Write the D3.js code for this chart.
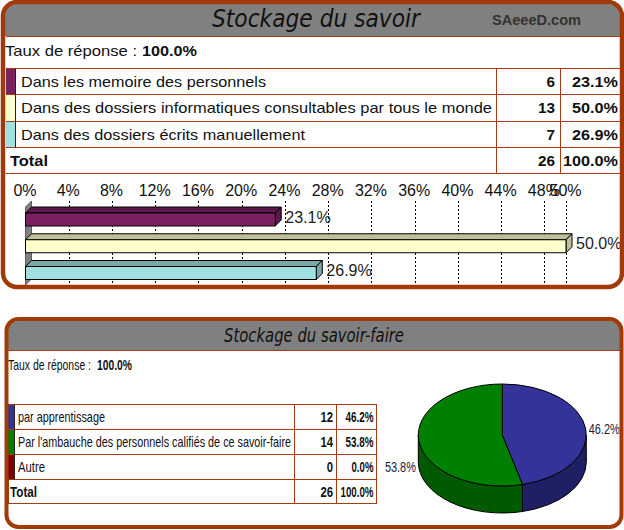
<!DOCTYPE html>
<html><head><meta charset="utf-8">
<script src="https://cdn.jsdelivr.net/npm/d3@7"></script>
<style>html,body{margin:0;padding:0;background:#fff}svg{display:block}text{font-family:"Liberation Sans",Arial,sans-serif;fill:#111}</style>
</head><body><svg id="c" width="624" height="530"></svg>
<script>
// ---- data ----
const title1 = "Stockage du savoir";
const brand = "SAeeeD.com";
const responseLabel = "Taux de réponse :";
const responseValue = "100.0%";
const cats1 = ["Dans les memoire des personnels","Dans des dossiers informatiques consultables par tous le monde","Dans des dossiers écrits manuellement"];
const counts1 = [6,13,7];
const pcts1 = [23.1,50.0,26.9];
const colors1 = ["#7b2060","#ffffcc","#a0e0e0"];
const tops1 = ["#5c1848","#bfbf99","#78a8a8"];
const ticks1 = [0,4,8,12,16,20,24,28,32,36,40,44,48,50];
const total1 = 26;
const title2 = "Stockage du savoir-faire";
const cats2 = ["par apprentissage","Par l'ambauche des personnels califiés de ce savoir-faire","Autre"];
const counts2 = [12,14,0];
const pcts2 = [46.2,53.8,0.0];
const colors2 = ["#333399","#008000","#800000"];
const sides2 = ["#1f1f66","#005a00","#4d0000"];
const total2 = 26;
const totalLabel = "Total";

// ---- helpers ----
const svg = d3.select("#c");
const BR = "#a03a0a", LINE = "#a83c10";
function txt(s,x,y,size,o={}){
  const t = svg.append("text").attr("x",x).attr("y",y).attr("font-size",size).text(s);
  if(o.bold) t.attr("font-weight","bold");
  if(o.anchor) t.attr("text-anchor",o.anchor);
  if(o.w){ t.attr("textLength",o.w).attr("lengthAdjust","spacingAndGlyphs"); }
  if(o.fill) t.style("fill",o.fill);
  if(o.italic) t.attr("font-style","italic");
  if(o.family) t.style("font-family",o.family);
  return t;
}
function rightTxt(s,xr,y,size,w,bold){ // right aligned, fitted width
  return txt(s,xr-w,y,size,{bold,w});
}
function hl(x1,x2,y,c=LINE){svg.append("line").attr("x1",x1).attr("x2",x2).attr("y1",y).attr("y2",y).attr("stroke",c);}
function vl(x,y1,y2,c=LINE){svg.append("line").attr("x1",x).attr("x2",x).attr("y1",y1).attr("y2",y2).attr("stroke",c);}
const fmt = v => v.toFixed(1)+"%";
const TITLEFONT = '"Comic Sans MS","DejaVu Sans",sans-serif';

// ---- panel 1 ----
svg.append("rect").attr("x",3).attr("y",2).attr("width",619).attr("height",285).attr("rx",14).attr("fill","#fff");
svg.append("path").attr("d","M5,36V16Q5,4 17,4H607Q620,4 620,16V36Z").attr("fill","#808080");
hl(6,620,36.5);
txt(title1,212,27,25,{italic:true,w:208,family:TITLEFONT});
txt(brand,492,25,14,{bold:true,w:89,fill:"#333"});
txt(responseLabel,5,56,15,{w:132});
txt(responseValue,142,56,15,{bold:true,w:55});

const rows1 = [68.5,94.5,121.5,147.5,173.5];
rows1.forEach(y=>hl(6,620,y));
vl(496.5,68,173.5); vl(560.5,68,173.5);
const w1 = [245,471,284];
const wn1 = v => String(v).length*8.5;
cats1.forEach((c,i)=>{
  svg.append("rect").attr("x",6).attr("y",rows1[i]+.5).attr("width",9).attr("height",rows1[i+1]-rows1[i]-1).attr("fill",colors1[i]);
  vl(15.5,rows1[i],rows1[i+1],"#222");
  txt(c,21,rows1[i]+18,15,{w:w1[i]});
  rightTxt(String(counts1[i]),555,rows1[i]+18,15,wn1(counts1[i]),true);
  rightTxt(fmt(pcts1[i]),618,rows1[i]+18,15,46,true);
});
txt(totalLabel,10,166,15,{bold:true,w:38});
rightTxt(String(total1),555,166,15,17,true);
rightTxt("100.0%",618,166,15,55,true);

// bar chart
const x = d3.scaleLinear().domain([0,50]).range([25.5,566]);
const yBar = d3.scalePoint().domain(cats1).range([213,266.5]);
const barH = 13, dp = 6, gridTop = 201, gridBot = 285;
svg.append("path").attr("d",`M${x(0)},${gridTop+6}L${x(0)+dp},${gridTop}V${gridBot-6}L${x(0)},${gridBot}Z`).attr("fill","#808080").attr("stroke","#333").attr("stroke-width",.7);
svg.append("g").selectAll("line").data(ticks1.slice(1)).join("line")
  .attr("x1",d=>Math.round(x(d))+.5).attr("x2",d=>Math.round(x(d))+.5).attr("y1",gridTop).attr("y2",gridBot)
  .attr("stroke","#000").attr("stroke-dasharray","2,2");
const axis = d3.axisTop(x).tickValues(ticks1).tickFormat(d=>d+"%").tickSize(0).tickPadding(0);
const ag = svg.append("g").attr("transform","translate(-1,196)").call(axis);
ag.select(".domain").remove();
ag.selectAll("text").attr("font-size",16).attr("font-family",'"Liberation Sans",Arial,sans-serif').style("fill","#111").attr("dy",0);
const g = svg.append("g");
cats1.forEach((c,i)=>{
  const x0=x(0), x1=x(pcts1[i]), y=yBar(c);
  g.append("path").attr("d",`M${x0},${y}L${x0+dp},${y-dp}H${x1+dp}L${x1},${y}Z`).attr("fill",tops1[i]).attr("stroke","#000");
  g.append("path").attr("d",`M${x1},${y}L${x1+dp},${y-dp}V${y+barH-dp}L${x1},${y+barH}Z`).attr("fill",tops1[i]).attr("stroke","#000");
  g.append("rect").attr("x",x0).attr("y",y).attr("width",x1-x0).attr("height",barH).attr("fill",colors1[i]).attr("stroke","#000");
  txt(fmt(pcts1[i]),x1+10,y+9.5,16,{w:45.5,fill:"#222"});
});
svg.append("rect").attr("x",3).attr("y",2).attr("width",619).attr("height",285).attr("rx",14).attr("fill","none").attr("stroke",BR).attr("stroke-width",4.5);

// ---- panel 2 ----
svg.append("rect").attr("x",6.5).attr("y",319).attr("width",615).attr("height",208).attr("rx",12).attr("fill","#fff");
svg.append("path").attr("d","M8,350V332Q8,321 19,321H610Q620,321 620,332V350Z").attr("fill","#808080");
hl(8,620,350.5);
txt(title2,224,342,19,{italic:true,w:180,family:TITLEFONT});
txt(responseLabel,8,369.5,14.5,{w:83});
txt(responseValue,97,369.5,14.5,{bold:true,w:35});

const rows2 = [404.5,429.5,454.5,479.5,503.5];
rows2.forEach(y=>hl(8,376,y));
vl(8.5,404,504); vl(294.5,404,504); vl(336.5,404,504); vl(376.5,404,504);
const w2 = [87,273,27];
cats2.forEach((c,i)=>{
  svg.append("rect").attr("x",8).attr("y",rows2[i]+.5).attr("width",6.5).attr("height",rows2[i+1]-rows2[i]-1).attr("fill",colors2[i]);
  vl(14.5,rows2[i],rows2[i+1],"#222");
  txt(c,18,rows2[i]+17.5,15,{w:w2[i]});
  rightTxt(String(counts2[i]),333,rows2[i]+17.5,14.5,String(counts2[i]).length*6.3,true);
  rightTxt(fmt(pcts2[i]),373.5,rows2[i]+17.5,14.5,pcts2[i]<10?22:28,true);
});
txt(totalLabel,10,497,14.5,{bold:true,w:27});
rightTxt(String(total2),333,497,14.5,12.6,true);
rightTxt("100.0%",373.5,497,14.5,33,true);

// pie
const cx=502.3, cy=435, rx=84, ry=51, depth=27;
const arcs = d3.pie().sort(null).value(d=>d)(counts2);
const pt=(a,dy=0)=>[cx+rx*Math.sin(a),cy-ry*Math.cos(a)+dy];
const pg = svg.append("g");
arcs.forEach((a,i)=>{
  const s=Math.max(a.startAngle,Math.PI/2), e=Math.min(a.endAngle,3*Math.PI/2);
  if(e<=s) return;
  const p1=pt(s),p2=pt(e),p3=pt(e,depth),p4=pt(s,depth);
  pg.append("path").attr("d",`M${p1}A${rx},${ry} 0 0 1 ${p2}L${p3}A${rx},${ry} 0 0 0 ${p4}Z`)
    .attr("fill",sides2[i]).attr("stroke","#000");
});
const arcGen = d3.arc().innerRadius(0).outerRadius(rx);
const topG = pg.append("g").attr("transform",`translate(${cx},${cy}) scale(1,${ry/rx})`);
arcs.forEach((a,i)=>{
  if(a.endAngle-a.startAngle<=0) return;
  topG.append("path").attr("d",arcGen(a)).attr("fill",colors2[i]).attr("stroke","#000").attr("vector-effect","non-scaling-stroke");
  const m=(a.startAngle+a.endAngle)/2, [lx,ly]=pt(m);
  const lower=Math.cos(m)<0, right=Math.sin(m)>0;
  txt(fmt(pcts2[i]),right?lx+3:lx-34,ly+5+(lower?depth-1:0),15,{w:31,fill:"#1a1a3a"});
});
svg.append("rect").attr("x",6.5).attr("y",319).attr("width",615).attr("height",208).attr("rx",12).attr("fill","none").attr("stroke",BR).attr("stroke-width",4);
</script></body></html>
